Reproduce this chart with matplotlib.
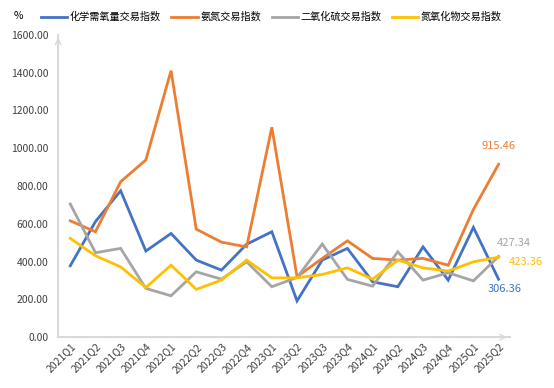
import matplotlib.pyplot as plt

plt.rcParams['font.family'] = ['Noto Sans CJK SC', 'DejaVu Sans']

quarters = ['2021Q1', '2021Q2', '2021Q3', '2021Q4', '2022Q1', '2022Q2', '2022Q3', '2022Q4',
            '2023Q1', '2023Q2', '2023Q3', '2023Q4', '2024Q1', '2024Q2', '2024Q3', '2024Q4',
            '2025Q1', '2025Q2']

cod = [378, 612, 775, 456, 549, 408, 355, 492, 558, 192, 408, 470, 293, 267, 478, 302, 581, 306.36]
ammonia = [616, 558, 823, 938, 1411, 572, 503, 478, 1111, 320, 417, 510, 417, 408, 417, 381, 676, 915.46]
so2 = [705, 447, 470, 258, 219, 346, 307, 399, 267, 316, 493, 306, 270, 452, 302, 341, 298, 427.34]
nox = [523, 431, 372, 263, 381, 253, 302, 408, 314, 314, 332, 367, 307, 408, 367, 350, 399, 423.36]

names = ['化学需氧量交易指数', '氨氮交易指数', '二氧化硫交易指数', '氮氧化物交易指数']
colors = ['#4472C4', '#ED7D31', '#A5A5A5', '#FFC000']

fs = 7.5

fig = plt.figure(figsize=(5.54, 3.88), dpi=100)
ax = fig.add_axes([0.105, 0.131, 0.815, 0.779])

x = list(range(len(quarters)))
series = [cod, ammonia, so2, nox]
for vals, nm, c in zip(series, names, colors):
    ax.plot(x, vals, color=c, lw=2.0, label=nm, solid_joinstyle='miter')

# end labels
ax.annotate(f'{ammonia[-1]:.2f}', (x[-1], ammonia[-1]), xytext=(0, 13), textcoords='offset points',
            ha='center', va='center', color=colors[1], fontsize=fs + 0.5)
ax.annotate(f'{so2[-1]:.2f}', (x[-1], so2[-1]), xytext=(-1.5, 10), textcoords='offset points',
            ha='left', va='center', color=colors[2], fontsize=fs + 0.5)
ax.annotate(f'{nox[-1]:.2f}', (x[-1], nox[-1]), xytext=(7, -3.6), textcoords='offset points',
            ha='left', va='center', color=colors[3], fontsize=fs + 0.5)
ax.annotate(f'{cod[-1]:.2f}', (x[-1], cod[-1]), xytext=(-8, -7), textcoords='offset points',
            ha='left', va='center', color=colors[0], fontsize=fs + 0.5)

ax.set_xlim(-0.48, 17.44)
ax.set_ylim(0, 1600)
ax.set_yticks(range(0, 1601, 200))
ax.set_yticklabels([f'{v:.2f}' for v in range(0, 1601, 200)])
ax.set_xticks(x)
ax.set_xticklabels(quarters, rotation=45, ha='right', va='top', rotation_mode='anchor')
ax.tick_params(length=0, labelsize=fs, colors='#404040', pad=3)
ax.tick_params(axis='y', pad=7)

for s in ['top', 'right']:
    ax.spines[s].set_visible(False)
for s in ['left', 'bottom']:
    ax.spines[s].set_color('#D9D9D9')
    ax.spines[s].set_linewidth(1.5)

# axis arrows
ax.annotate('', xy=(0, 1.0), xytext=(0, 0.96), xycoords='axes fraction',
            arrowprops=dict(arrowstyle='->', color='#D9D9D9', lw=1.0), annotation_clip=False)
ax.annotate('', xy=(1.0, 0), xytext=(0.96, 0), xycoords='axes fraction',
            arrowprops=dict(arrowstyle='->', color='#D9D9D9', lw=1.0), annotation_clip=False)

fig.text(0.033, 0.958, '%', fontsize=fs, color='#000000', ha='center', va='center')
fig.legend(loc='center left', bbox_to_anchor=(0.066, 0.956), ncol=4, frameon=False,
           fontsize=7.3, handlelength=2.6, handletextpad=0.25, columnspacing=1.05,
           borderaxespad=0)

fig.savefig('out.png', dpi=100)
